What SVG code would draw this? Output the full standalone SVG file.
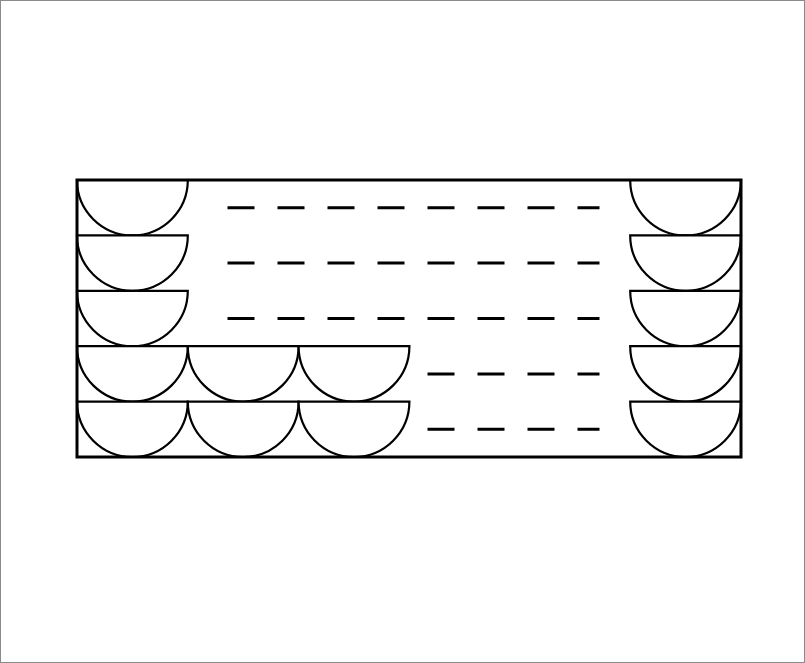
<svg xmlns="http://www.w3.org/2000/svg" width="805" height="663" viewBox="0 0 805 663">
<style>
.frame{fill:#fff;stroke:#8a8a8a;stroke-width:1}
.box{fill:none;stroke:#000;stroke-width:3}
.bowl{fill:#fff;stroke:#000;stroke-width:2.2;stroke-linejoin:miter}
.dash{stroke:#000;stroke-width:3;stroke-dasharray:27 23;fill:none}
</style>
<defs>
<path id="b" class="bowl" d="M0,0 h110.8 a55.4,55.4 0 0 1 -110.8,0 z"/>
</defs>
<rect class="frame" x="0.5" y="0.5" width="804" height="662"/>
<g id="left">
<use href="#b" x="77" y="180"/>
<use href="#b" x="77" y="235.4"/>
<use href="#b" x="77" y="290.8"/>
<use href="#b" x="77" y="346.2"/>
<use href="#b" x="187.8" y="346.2"/>
<use href="#b" x="298.6" y="346.2"/>
<use href="#b" x="77" y="401.6"/>
<use href="#b" x="187.8" y="401.6"/>
<use href="#b" x="298.6" y="401.6"/>
</g>
<g id="right">
<use href="#b" x="630.2" y="180"/>
<use href="#b" x="630.2" y="235.4"/>
<use href="#b" x="630.2" y="290.8"/>
<use href="#b" x="630.2" y="346.2"/>
<use href="#b" x="630.2" y="401.6"/>
</g>
<g id="dashes">
<line class="dash" x1="227.5" y1="207.7" x2="599.5" y2="207.7"/>
<line class="dash" x1="227.5" y1="263.1" x2="599.5" y2="263.1"/>
<line class="dash" x1="227.5" y1="318.5" x2="599.5" y2="318.5"/>
<line class="dash" x1="427.5" y1="373.9" x2="599.5" y2="373.9"/>
<line class="dash" x1="427.5" y1="429.3" x2="599.5" y2="429.3"/>
</g>
<rect id="outline" class="box" x="77" y="180" width="664" height="277"/>
</svg>
